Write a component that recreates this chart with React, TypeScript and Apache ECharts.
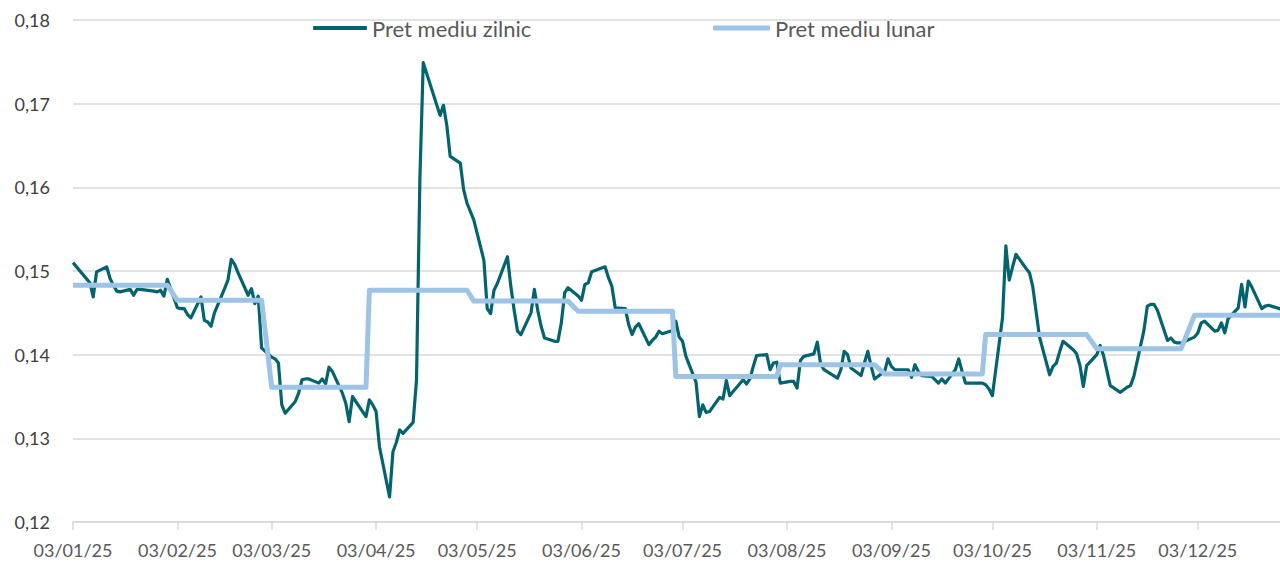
import React, { useEffect, useRef } from "react";
import * as echarts from "echarts";

// ---- Data ----
const SERIES_DAILY = "Pret mediu zilnic";
const SERIES_MONTHLY = "Pret mediu lunar";

// Romanian public holidays on weekdays (no quotes)
const HOLIDAYS = [
  "2025-01-06", "2025-01-07", "2025-01-24", "2025-04-18", "2025-04-21",
  "2025-05-01", "2025-06-09", "2025-08-15", "2025-12-01", "2025-12-25", "2025-12-26",
];
const FIRST_DAY = "2025-01-03";
const LAST_DAY = "2025-12-29";

// Daily average price, one value per trading day of each month
const jan = [0.1510, 0.1486, 0.1469, 0.1499, 0.1505, 0.1491, 0.1483, 0.1476, 0.1475, 0.1478, 0.1471, 0.1478, 0.1478, 0.1476, 0.1475, 0.1477, 0.1470, 0.1490];
const feb = [0.1456, 0.1455, 0.1455, 0.1448, 0.1444, 0.1469, 0.1441, 0.1439, 0.1434, 0.1450, 0.1479, 0.1489, 0.1514, 0.1508, 0.1498, 0.1471, 0.1479, 0.1461, 0.1470, 0.1408];
const mar = [0.1397, 0.1395, 0.1390, 0.1340, 0.1330, 0.1344, 0.1354, 0.1370, 0.1371, 0.1371, 0.1366, 0.1371, 0.1365, 0.1385, 0.1380, 0.1354, 0.1342, 0.1320, 0.1350, 0.1344, 0.1326];
const apr = [0.1346, 0.1340, 0.1332, 0.1290, 0.1230, 0.1284, 0.1295, 0.1310, 0.1306, 0.1319, 0.1370, 0.1610, 0.1749, 0.1686, 0.1698, 0.1674, 0.1637, 0.1629, 0.1597, 0.1581];
const may = [0.1561, 0.1513, 0.1455, 0.1449, 0.1477, 0.1485, 0.1517, 0.1482, 0.1453, 0.1428, 0.1424, 0.1450, 0.1478, 0.1453, 0.1434, 0.1420, 0.1416, 0.1416, 0.1438, 0.1474, 0.1480];
const jun = [0.1470, 0.1465, 0.1484, 0.1486, 0.1499, 0.1505, 0.1492, 0.1482, 0.1456, 0.1455, 0.1436, 0.1424, 0.1433, 0.1437, 0.1412, 0.1417, 0.1421, 0.1428, 0.1425, 0.1429];
const jul = [0.1440, 0.1421, 0.1416, 0.1398, 0.1367, 0.1326, 0.1340, 0.1331, 0.1332, 0.1349, 0.1347, 0.1369, 0.1351, 0.1356, 0.1370, 0.1365, 0.1371, 0.1386, 0.1399, 0.1400, 0.1382, 0.1390, 0.1391];
const aug = [0.1366, 0.1368, 0.1368, 0.1360, 0.1393, 0.1398, 0.1401, 0.1415, 0.1389, 0.1382, 0.1372, 0.1382, 0.1404, 0.1400, 0.1384, 0.1375, 0.1390, 0.1404, 0.1386, 0.1371];
const sep = [0.1380, 0.1395, 0.1386, 0.1382, 0.1382, 0.1382, 0.1373, 0.1388, 0.1380, 0.1375, 0.1374, 0.1370, 0.1366, 0.1371, 0.1366, 0.1382, 0.1395, 0.1380, 0.1366, 0.1366, 0.1366, 0.1366];
const oct = [0.1364, 0.1359, 0.1351, 0.1444, 0.1530, 0.1489, 0.1505, 0.1520, 0.1503, 0.1498, 0.1481, 0.1451, 0.1421, 0.1376, 0.1386, 0.1390, 0.1404, 0.1416, 0.1406, 0.1401, 0.1387, 0.1362, 0.1387];
const nov = [0.1400, 0.1411, 0.1399, 0.1381, 0.1363, 0.1355, 0.1358, 0.1361, 0.1363, 0.1374, 0.1429, 0.1458, 0.1460, 0.1460, 0.1453, 0.1417, 0.1420, 0.1415, 0.1414, 0.1414];
const dec = [0.1421, 0.1426, 0.1438, 0.1440, 0.1428, 0.1429, 0.1438, 0.1426, 0.1443, 0.1456, 0.1484, 0.1457, 0.1488, 0.1481, 0.1455, 0.1458, 0.1459, 0.1453];

// Monthly average price
const monthlyAvg = [0.1483, 0.1465, 0.1361, 0.1477, 0.1464, 0.1452, 0.1374, 0.1388, 0.1377, 0.1424, 0.1407, 0.1447];

// Axis ticks / labels at the 3rd of each month
const TICK_MONTHS = [0, 1, 2, 3, 4, 5, 6, 7, 8, 9, 10, 11];
const TICK_DAY = 3;
const Y_TICKS = [0.12, 0.13, 0.14, 0.15, 0.16, 0.17, 0.18];

const dailyByMonth = [jan, feb, mar, apr, may, jun, jul, aug, sep, oct, nov, dec];

const pad = (n: number) => (n < 10 ? "0" + n : "" + n);

function tradingDays(month: number): number[] {
  const out: number[] = [];
  const dim = new Date(2025, month + 1, 0).getDate();
  for (let d = 1; d <= dim; d++) {
    const dt = new Date(2025, month, d);
    const wd = dt.getDay();
    if (wd === 0 || wd === 6) continue;
    const key = `2025-${pad(month + 1)}-${pad(d)}`;
    if (HOLIDAYS.includes(key)) continue;
    if (key < FIRST_DAY || key > LAST_DAY) continue;
    out.push(dt.getTime());
  }
  return out;
}

const dailyData: [number, number][] = [];
const monthlyData: [number, number][] = [];
dailyByMonth.forEach((vals, m) => {
  const days = tradingDays(m);
  const n = Math.min(days.length, vals.length);
  for (let i = 0; i < n; i++) {
    dailyData.push([days[i], vals[i]]);
    monthlyData.push([days[i], monthlyAvg[m]]);
  }
});

const DAY = 86400000;
const X_MIN = new Date(2025, 0, 3).getTime();
const X_MAX = X_MIN + 358.4 * DAY;
const tickValues = TICK_MONTHS.map((m) => new Date(2025, m, TICK_DAY).getTime());

const FONT = "Lato, 'Noto Sans', sans-serif";

export default function App() {
  const ref = useRef<HTMLDivElement>(null);

  useEffect(() => {
    if (!ref.current) return;
    const chart = echarts.init(ref.current, undefined, { renderer: "svg" });
    const legendCommon = {
      top: 17,
      padding: 0,
      icon: "roundRect",
      itemHeight: 4,
      textStyle: { color: "#595959", fontSize: 22, fontFamily: FONT },
      selectedMode: false,
    };
    chart.setOption({
      animation: false,
      backgroundColor: "#ffffff",
      textStyle: { fontFamily: FONT },
      grid: { left: 73, right: 0, top: 20, bottom: 42, containLabel: false },
      legend: [
        { ...legendCommon, data: [SERIES_DAILY], left: 313, itemWidth: 54 },
        { ...legendCommon, data: [SERIES_MONTHLY], left: 713, itemWidth: 57, itemHeight: 5 },
      ],
      xAxis: {
        type: "value",
        min: X_MIN,
        max: X_MAX,
        axisLine: { show: true, lineStyle: { color: "#d9d9d9", width: 1.5 } },
        axisTick: {
          show: true,
          customValues: tickValues,
          length: 8,
          lineStyle: { color: "#d9d9d9", width: 1.5 },
        },
        axisLabel: {
          customValues: tickValues,
          color: "#595959",
          fontSize: 18,
          fontFamily: FONT,
          margin: 19,
          hideOverlap: false,
          formatter: (v: number) => {
            const d = new Date(v);
            return `${pad(d.getDate())}/${pad(d.getMonth() + 1)}/${String(d.getFullYear()).slice(2)}`;
          },
        },
        splitLine: { show: false },
      },
      yAxis: {
        type: "value",
        min: Y_TICKS[0],
        max: Y_TICKS[Y_TICKS.length - 1],
        interval: 0.01,
        axisLine: { show: false },
        axisTick: { show: false },
        axisLabel: {
          color: "#404040",
          fontSize: 18,
          fontFamily: FONT,
          margin: 23,
          formatter: (v: number) => v.toFixed(2).replace(".", ","),
        },
        splitLine: { show: true, lineStyle: { color: "#d9d9d9", width: 1.5 } },
      },
      series: [
        {
          name: SERIES_DAILY,
          type: "line",
          data: dailyData,
          showSymbol: false,
          symbol: "none",
          color: "#03646f",
          lineStyle: { color: "#03646f", width: 3.2, join: "round" },
          z: 2,
        },
        {
          name: SERIES_MONTHLY,
          type: "line",
          data: monthlyData,
          showSymbol: false,
          symbol: "none",
          color: "#9dc3e6",
          lineStyle: { color: "#9dc3e6", width: 5, join: "round" },
          z: 3,
        },
      ],
    });
    return () => chart.dispose();
  }, []);

  return (
    <div
      ref={ref}
      style={{ position: "absolute", left: 0, top: 0, width: 1280, height: 564, background: "#fff" }}
    />
  );
}
